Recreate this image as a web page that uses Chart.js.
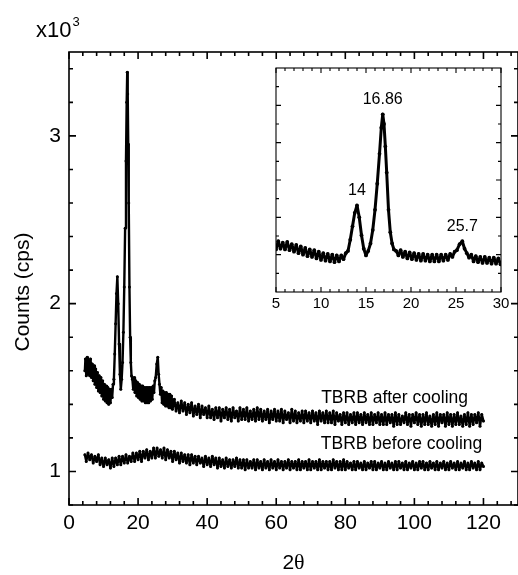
<!DOCTYPE html>
<html><head><meta charset="utf-8">
<script src="https://cdn.jsdelivr.net/npm/chart.js@4.4.1/dist/chart.umd.min.js"></script>
<style>
html,body{margin:0;padding:0;background:#fff;overflow:hidden;width:518px;height:575px;}
canvas{position:absolute;left:0;top:0;}
#inset{pointer-events:none;}
</style></head><body>
<canvas id="main" width="522" height="575"></canvas>
<canvas id="inset" width="522" height="575"></canvas>
<script>
// ---------- data ----------
const afterX = [
 4.6,4.75,5,5.25,5.5,5.75,6,6.25,6.5,6.75,7,7.25,7.5,7.75,8,8.25,8.5,8.75,9,9.25,9.5,9.75,10,10.25,10.5,10.75,11,11.25,11.5,11.75,12,12.25,12.5,12.75,
 13,13.25,13.5,13.75,14,14.25,14.5,14.75,15,15.25,15.5,15.75,16,16.25,16.5,16.7,16.86,17,17.15,17.3,17.5,17.7,17.9,18.1,
 18.35,18.6,18.85,19.1,19.35,19.6,19.85,20.1,20.35,20.6,20.85,21.1,21.35,21.6,21.85,22.1,22.35,22.6,22.85,23.1,23.35,23.6,23.85,
 24.1,24.35,24.6,24.85,25.1,25.4,25.7,25.95,26.2,26.45,26.7,26.95,27.2,27.45,27.7,27.95,28.2,28.45,28.7,28.95,29.2,29.45,29.7,29.95,
 30.5,31,31.5,32,32.5,33,33.5,34,34.5,35, 35.5,36,36.5,37,37.5,38,38.5,39,39.5,40,
 40.5,41,41.5,42,42.5,43,43.5,44,44.5,45, 45.5,46,46.5,47,47.5,48,48.5,49,49.5,50,
 50.5,51,51.5,52,52.5,53,53.5,54,54.5,55, 55.5,56,56.5,57,57.5,58,58.5,59,59.5,60,
 60.5,61,61.5,62,62.5,63,63.5,64,64.5,65, 65.5,66,66.5,67,67.5,68,68.5,69,69.5,70,
 70.5,71,71.5,72,72.5,73,73.5,74,74.5,75, 75.5,76,76.5,77,77.5,78,78.5,79,79.5,80,
 80.5,81,81.5,82,82.5,83,83.5,84,84.5,85, 85.5,86,86.5,87,87.5,88,88.5,89,89.5,90,
 90.5,91,91.5,92,92.5,93,93.5,94,94.5,95, 95.5,96,96.5,97,97.5,98,98.5,99,99.5,100,
 100.5,101,101.5,102,102.5,103,103.5,104,104.5,105, 105.5,106,106.5,107,107.5,108,108.5,109,109.5,110,
 110.5,111,111.5,112,112.5,113,113.5,114,114.5,115, 115.5,116,116.5,117,117.5,118,118.5,119,119.5,120
];
const afterY = [
 1.60,1.67,1.57,1.68,1.58,1.66,1.57,1.67,1.56,1.64,1.54,1.63,1.52,1.61,1.50,1.59,1.48,1.57,1.47,1.56,1.45,1.54,1.43,1.52,1.42,1.51,1.41,1.50,1.40,1.49,1.41,1.49,1.44,1.52,
 1.55,1.70,1.88,2.06,2.16,2.00,1.76,1.58,1.49,1.55,1.65,1.83,2.10,2.45,2.85,3.20,3.38,3.25,2.95,2.60,2.10,1.80,1.65,1.57,
 1.55,1.49,1.56,1.47,1.54,1.45,1.53,1.44,1.52,1.43,1.51,1.42,1.51,1.42,1.50,1.41,1.50,1.41,1.50,1.41,1.50,1.42,1.50,
 1.43,1.51,1.47,1.54,1.56,1.64,1.68,1.58,1.52,1.46,1.50,1.41,1.48,1.40,1.47,1.39,1.47,1.39,1.46,1.38,1.46,1.38,1.45,1.37,
 1.43,1.36,1.41,1.35,1.42,1.36,1.41,1.34,1.40,1.35, 1.41,1.33,1.39,1.34,1.40,1.32,1.39,1.34,1.38,1.32,
 1.39,1.32,1.37,1.31,1.38,1.32,1.38,1.30,1.37,1.32, 1.38,1.31,1.37,1.30,1.38,1.32,1.36,1.30,1.38,1.31,
 1.37,1.31,1.38,1.30,1.36,1.31,1.37,1.30,1.38,1.31, 1.37,1.30,1.36,1.31,1.37,1.29,1.36,1.31,1.37,1.30,
 1.36,1.30,1.37,1.29,1.36,1.31,1.35,1.29,1.37,1.30, 1.36,1.29,1.35,1.30,1.36,1.29,1.36,1.30,1.35,1.29,
 1.36,1.30,1.35,1.28,1.36,1.30,1.35,1.29,1.36,1.29, 1.35,1.29,1.36,1.28,1.35,1.30,1.34,1.28,1.35,1.29,
 1.35,1.28,1.34,1.29,1.35,1.28,1.35,1.29,1.34,1.28, 1.35,1.29,1.34,1.28,1.35,1.28,1.34,1.29,1.35,1.28,
 1.34,1.28,1.35,1.28,1.34,1.29,1.34,1.27,1.35,1.28, 1.34,1.28,1.33,1.29,1.35,1.28,1.34,1.27,1.34,1.29,
 1.35,1.28,1.34,1.27,1.34,1.28,1.35,1.28,1.33,1.27, 1.34,1.28,1.35,1.27,1.34,1.29,1.34,1.27,1.35,1.28,
 1.34,1.27,1.34,1.28,1.35,1.28,1.33,1.27,1.34,1.28, 1.35,1.27,1.34,1.28,1.34,1.29,1.35,1.27,1.34,1.30
];
const beforeX = [
 4.6,
 5,5.5,6,6.5,7,7.5,8,8.5,9,9.5, 10,10.5,11,11.5,12,12.5,13,13.5,14,14.5,
 15,15.5,16,16.5,17,17.5,18,18.5,19,19.5, 20,20.5,21,21.5,22,22.5,23,23.5,24,24.5,
 25,25.5,26,26.5,27,27.5,28,28.5,29,29.5, 30,30.5,31,31.5,32,32.5,33,33.5,34,34.5,
 35,35.5,36,36.5,37,37.5,38,38.5,39,39.5, 40,40.5,41,41.5,42,42.5,43,43.5,44,44.5,
 45,45.5,46,46.5,47,47.5,48,48.5,49,49.5, 50,50.5,51,51.5,52,52.5,53,53.5,54,54.5,
 55,55.5,56,56.5,57,57.5,58,58.5,59,59.5, 60,60.5,61,61.5,62,62.5,63,63.5,64,64.5,
 65,65.5,66,66.5,67,67.5,68,68.5,69,69.5, 70,70.5,71,71.5,72,72.5,73,73.5,74,74.5,
 75,75.5,76,76.5,77,77.5,78,78.5,79,79.5, 80,80.5,81,81.5,82,82.5,83,83.5,84,84.5,
 85,85.5,86,86.5,87,87.5,88,88.5,89,89.5, 90,90.5,91,91.5,92,92.5,93,93.5,94,94.5,
 95,95.5,96,96.5,97,97.5,98,98.5,99,99.5, 100,100.5,101,101.5,102,102.5,103,103.5,104,104.5,
 105,105.5,106,106.5,107,107.5,108,108.5,109,109.5, 110,110.5,111,111.5,112,112.5,113,113.5,114,114.5,
 115,115.5,116,116.5,117,117.5,118,118.5,119,119.5, 120
];
const beforeY = [
 1.10,
 1.06,1.11,1.07,1.10,1.05,1.09,1.06,1.10,1.04,1.08, 1.03,1.08,1.04,1.07,1.02,1.08,1.03,1.08,1.04,1.09,
 1.04,1.09,1.05,1.10,1.05,1.09,1.06,1.11,1.06,1.11, 1.07,1.12,1.06,1.12,1.08,1.13,1.07,1.12,1.08,1.14,
 1.08,1.14,1.09,1.13,1.08,1.14,1.07,1.13,1.08,1.12, 1.06,1.12,1.07,1.11,1.05,1.11,1.06,1.10,1.05,1.10,
 1.04,1.10,1.05,1.09,1.04,1.09,1.05,1.08,1.03,1.09, 1.04,1.08,1.03,1.09,1.04,1.08,1.02,1.08,1.03,1.07,
 1.02,1.08,1.03,1.07,1.02,1.07,1.03,1.08,1.02,1.07, 1.02,1.07,1.01,1.07,1.02,1.06,1.02,1.07,1.01,1.07,
 1.02,1.06,1.01,1.07,1.02,1.06,1.01,1.07,1.02,1.06, 1.01,1.07,1.02,1.06,1.01,1.06,1.02,1.07,1.01,1.06,
 1.02,1.06,1.01,1.07,1.01,1.06,1.02,1.06,1.01,1.07, 1.01,1.06,1.02,1.06,1.01,1.07,1.01,1.06,1.02,1.06,
 1.01,1.06,1.01,1.07,1.02,1.06,1.01,1.06,1.01,1.07, 1.01,1.06,1.02,1.05,1.01,1.06,1.01,1.06,1.02,1.05,
 1.01,1.06,1.01,1.05,1.02,1.06,1.01,1.06,1.01,1.05, 1.02,1.06,1.01,1.05,1.01,1.06,1.02,1.05,1.01,1.06,
 1.01,1.06,1.02,1.05,1.01,1.06,1.01,1.05,1.02,1.06, 1.01,1.05,1.01,1.06,1.02,1.06,1.01,1.05,1.01,1.06,
 1.02,1.05,1.01,1.06,1.01,1.05,1.02,1.06,1.01,1.05, 1.01,1.06,1.02,1.05,1.01,1.06,1.01,1.05,1.02,1.06,
 1.01,1.05,1.01,1.06,1.02,1.05,1.01,1.06,1.01,1.05, 1.03
];
const seriesNames = ['TBRB after cooling','TBRB before cooling'];
const xTickLabels = [0,20,40,60,80,100,120];
const yTickLabels = [1,2,3];
const insetXTickLabels = [5,10,15,20,25,30];
const peakX = [14,16.86,25.7];
const peakLabels = ['14','16.86','25.7'];
const yTitle = 'Counts (cps)';
const xTitle = ['2','\u03B8'];
const yMultiplier = ['x10','3'];

// ---------- helpers ----------
const FONT = '"Liberation Sans", Arial, Helvetica, sans-serif';
const pts = (xs, ys) => xs.map((x, i) => ({x, y: ys[i]}));
const range = (a, b, s) => { const r = []; for (let v = a; v <= b + 1e-9; v += s) r.push(+v.toFixed(4)); return r; };

function frameTicks(chart, o) {
  const {ctx, chartArea: a, scales: {x, y}} = chart;
  ctx.save();
  ctx.strokeStyle = '#000';
  ctx.lineWidth = o.lw;
  ctx.strokeRect(a.left, a.top, a.right - a.left, a.bottom - a.top);
  ctx.beginPath();
  const xt = (v, len) => { const p = x.getPixelForValue(v);
    ctx.moveTo(p, a.bottom); ctx.lineTo(p, a.bottom - len);
    ctx.moveTo(p, a.top); ctx.lineTo(p, a.top + len); };
  const yt = (v, len) => { const p = y.getPixelForValue(v);
    ctx.moveTo(a.left, p); ctx.lineTo(a.left + len, p);
    ctx.moveTo(a.right, p); ctx.lineTo(a.right - len, p); };
  o.xMinor.forEach(v => xt(v, o.minLen));
  o.xMajor.forEach(v => xt(v, o.majLen));
  o.yMinor.forEach(v => yt(v, o.minLen));
  o.yMajor.forEach(v => yt(v, o.majLen));
  ctx.stroke();
  ctx.restore();
}

// ---------- main chart ----------
const mainFrame = {
  id: 'mainFrame',
  afterDraw(chart) {
    frameTicks(chart, {
      lw: 1.6, majLen: 7, minLen: 4,
      xMajor: range(0, 120, 20), xMinor: range(4, 128, 4).filter(v => v % 20 !== 0),
      yMajor: yTickLabels, yMinor: range(0.8, 3.4, 0.2).filter(v => Math.abs(v - Math.round(v)) > 1e-6)
    });
    const {ctx, scales: {x, y}} = chart;
    ctx.save();
    ctx.fillStyle = '#000';
    ctx.font = '21px ' + FONT;
    ctx.textAlign = 'center'; ctx.textBaseline = 'middle';
    ctx.translate(23, 292); ctx.rotate(-Math.PI / 2);
    ctx.fillText(yTitle, 0, 0);
    ctx.setTransform(1, 0, 0, 1, 0, 0);
    ctx.textBaseline = 'alphabetic';
    ctx.textAlign = 'left';
    ctx.font = '21px ' + FONT;
    const w2 = ctx.measureText(xTitle[0]).width;
    ctx.font = '22px "Liberation Serif", "Times New Roman", serif';
    const wt = ctx.measureText(xTitle[1]).width;
    const cx = (chart.chartArea.left + chart.chartArea.right) / 2;
    const sx = cx - (w2 + wt) / 2;
    ctx.font = '21px ' + FONT;
    ctx.fillText(xTitle[0], sx, 569);
    ctx.font = '22px "Liberation Serif", "Times New Roman", serif';
    ctx.fillText(xTitle[1], sx + w2, 569);
    ctx.font = '22px ' + FONT;
    ctx.fillText(yMultiplier[0], 36, 37);
    const wm = ctx.measureText(yMultiplier[0]).width;
    ctx.font = '13px ' + FONT;
    ctx.fillText(yMultiplier[1], 36 + wm + 1, 26);
    ctx.font = '17.5px ' + FONT;
    ctx.fillText(seriesNames[0], x.getPixelForValue(73), y.getPixelForValue(1.41));
    ctx.fillText(seriesNames[1], x.getPixelForValue(72.9), y.getPixelForValue(1.136));
    ctx.restore();
  }
};

const lineStyle = {
  borderColor: '#000', backgroundColor: '#000', borderWidth: 2.4,
  borderJoinStyle: 'round', borderCapStyle: 'round',
  pointRadius: 1.5, pointBorderWidth: 0, pointBackgroundColor: '#000',
  tension: 0, fill: false
};

new Chart(document.getElementById('main'), {
  type: 'line',
  data: {
    datasets: [
      Object.assign({label: seriesNames[0], data: pts(afterX, afterY)}, lineStyle),
      Object.assign({label: seriesNames[1], data: pts(beforeX, beforeY)}, lineStyle)
    ]
  },
  options: {
    responsive: false, animation: false, devicePixelRatio: 1,
    layout: {padding: {left: 0, top: 52, right: 2.3, bottom: 0}},
    plugins: {legend: {display: false}, tooltip: {enabled: false}},
    scales: {
      x: {
        type: 'linear', min: 0, max: 130,
        afterBuildTicks: s => { s.ticks = xTickLabels.map(v => ({value: v})); },
        afterFit: s => { s.height = 70; },
        grid: {display: false, drawTicks: false}, border: {display: false},
        ticks: {color: '#000', padding: 6, maxRotation: 0, font: {family: FONT, size: 21}}
      },
      y: {
        type: 'linear', min: 0.8, max: 3.5,
        afterBuildTicks: s => { s.ticks = yTickLabels.map(v => ({value: v})); },
        afterFit: s => { s.width = 69; },
        grid: {display: false, drawTicks: false}, border: {display: false},
        ticks: {color: '#000', padding: 8, font: {family: FONT, size: 21}}
      }
    }
  },
  plugins: [mainFrame]
});

// ---------- inset ----------
const insetPlugin = {
  id: 'insetFrame',
  beforeDraw(chart) {
    const {ctx, chartArea: a} = chart;
    ctx.save(); ctx.fillStyle = '#fff';
    ctx.fillRect(a.left, a.top, a.right - a.left, a.bottom - a.top);
    ctx.restore();
  },
  afterDraw(chart) {
    frameTicks(chart, {
      lw: 1.1, majLen: 5, minLen: 3,
      xMajor: range(5, 30, 5), xMinor: range(6, 29, 1).filter(v => v % 5 !== 0),
      yMajor: range(1.5, 3.5, 0.5), yMinor: range(1.25, 3.75, 0.5)
    });
    const {ctx, scales: {x, y}} = chart;
    ctx.save();
    ctx.fillStyle = '#000';
    ctx.font = '16px ' + FONT;
    ctx.textAlign = 'center'; ctx.textBaseline = 'middle';
    peakX.forEach((px, i) => {
      const idx = afterX.indexOf(px);
      ctx.fillText(peakLabels[i], x.getPixelForValue(px), y.getPixelForValue(afterY[idx]) - 15);
    });
    ctx.restore();
  }
};

const insetIdx = afterX.map((v, i) => i).filter(i => afterX[i] <= 31);
new Chart(document.getElementById('inset'), {
  type: 'line',
  data: {
    datasets: [Object.assign({label: seriesNames[0], data: insetIdx.map(i => ({x: afterX[i], y: afterY[i]}))}, lineStyle, {borderWidth: 3, pointRadius: 1.9})]
  },
  options: {
    responsive: false, animation: false, devicePixelRatio: 1,
    layout: {padding: {left: 276, top: 68, right: 21, bottom: 0}},
    plugins: {legend: {display: false}, tooltip: {enabled: false}},
    scales: {
      x: {
        type: 'linear', min: 5, max: 30,
        afterBuildTicks: s => { s.ticks = insetXTickLabels.map(v => ({value: v})); },
        afterFit: s => { s.height = 575 - 292; },
        grid: {display: false, drawTicks: false}, border: {display: false},
        ticks: {color: '#000', padding: 3, maxRotation: 0, font: {family: FONT, size: 15}}
      },
      y: {
        type: 'linear', min: 1, max: 4,
        afterFit: s => { s.width = 0; },
        grid: {display: false, drawTicks: false}, border: {display: false},
        ticks: {display: false}
      }
    }
  },
  plugins: [insetPlugin]
});
</script>
</body></html>
